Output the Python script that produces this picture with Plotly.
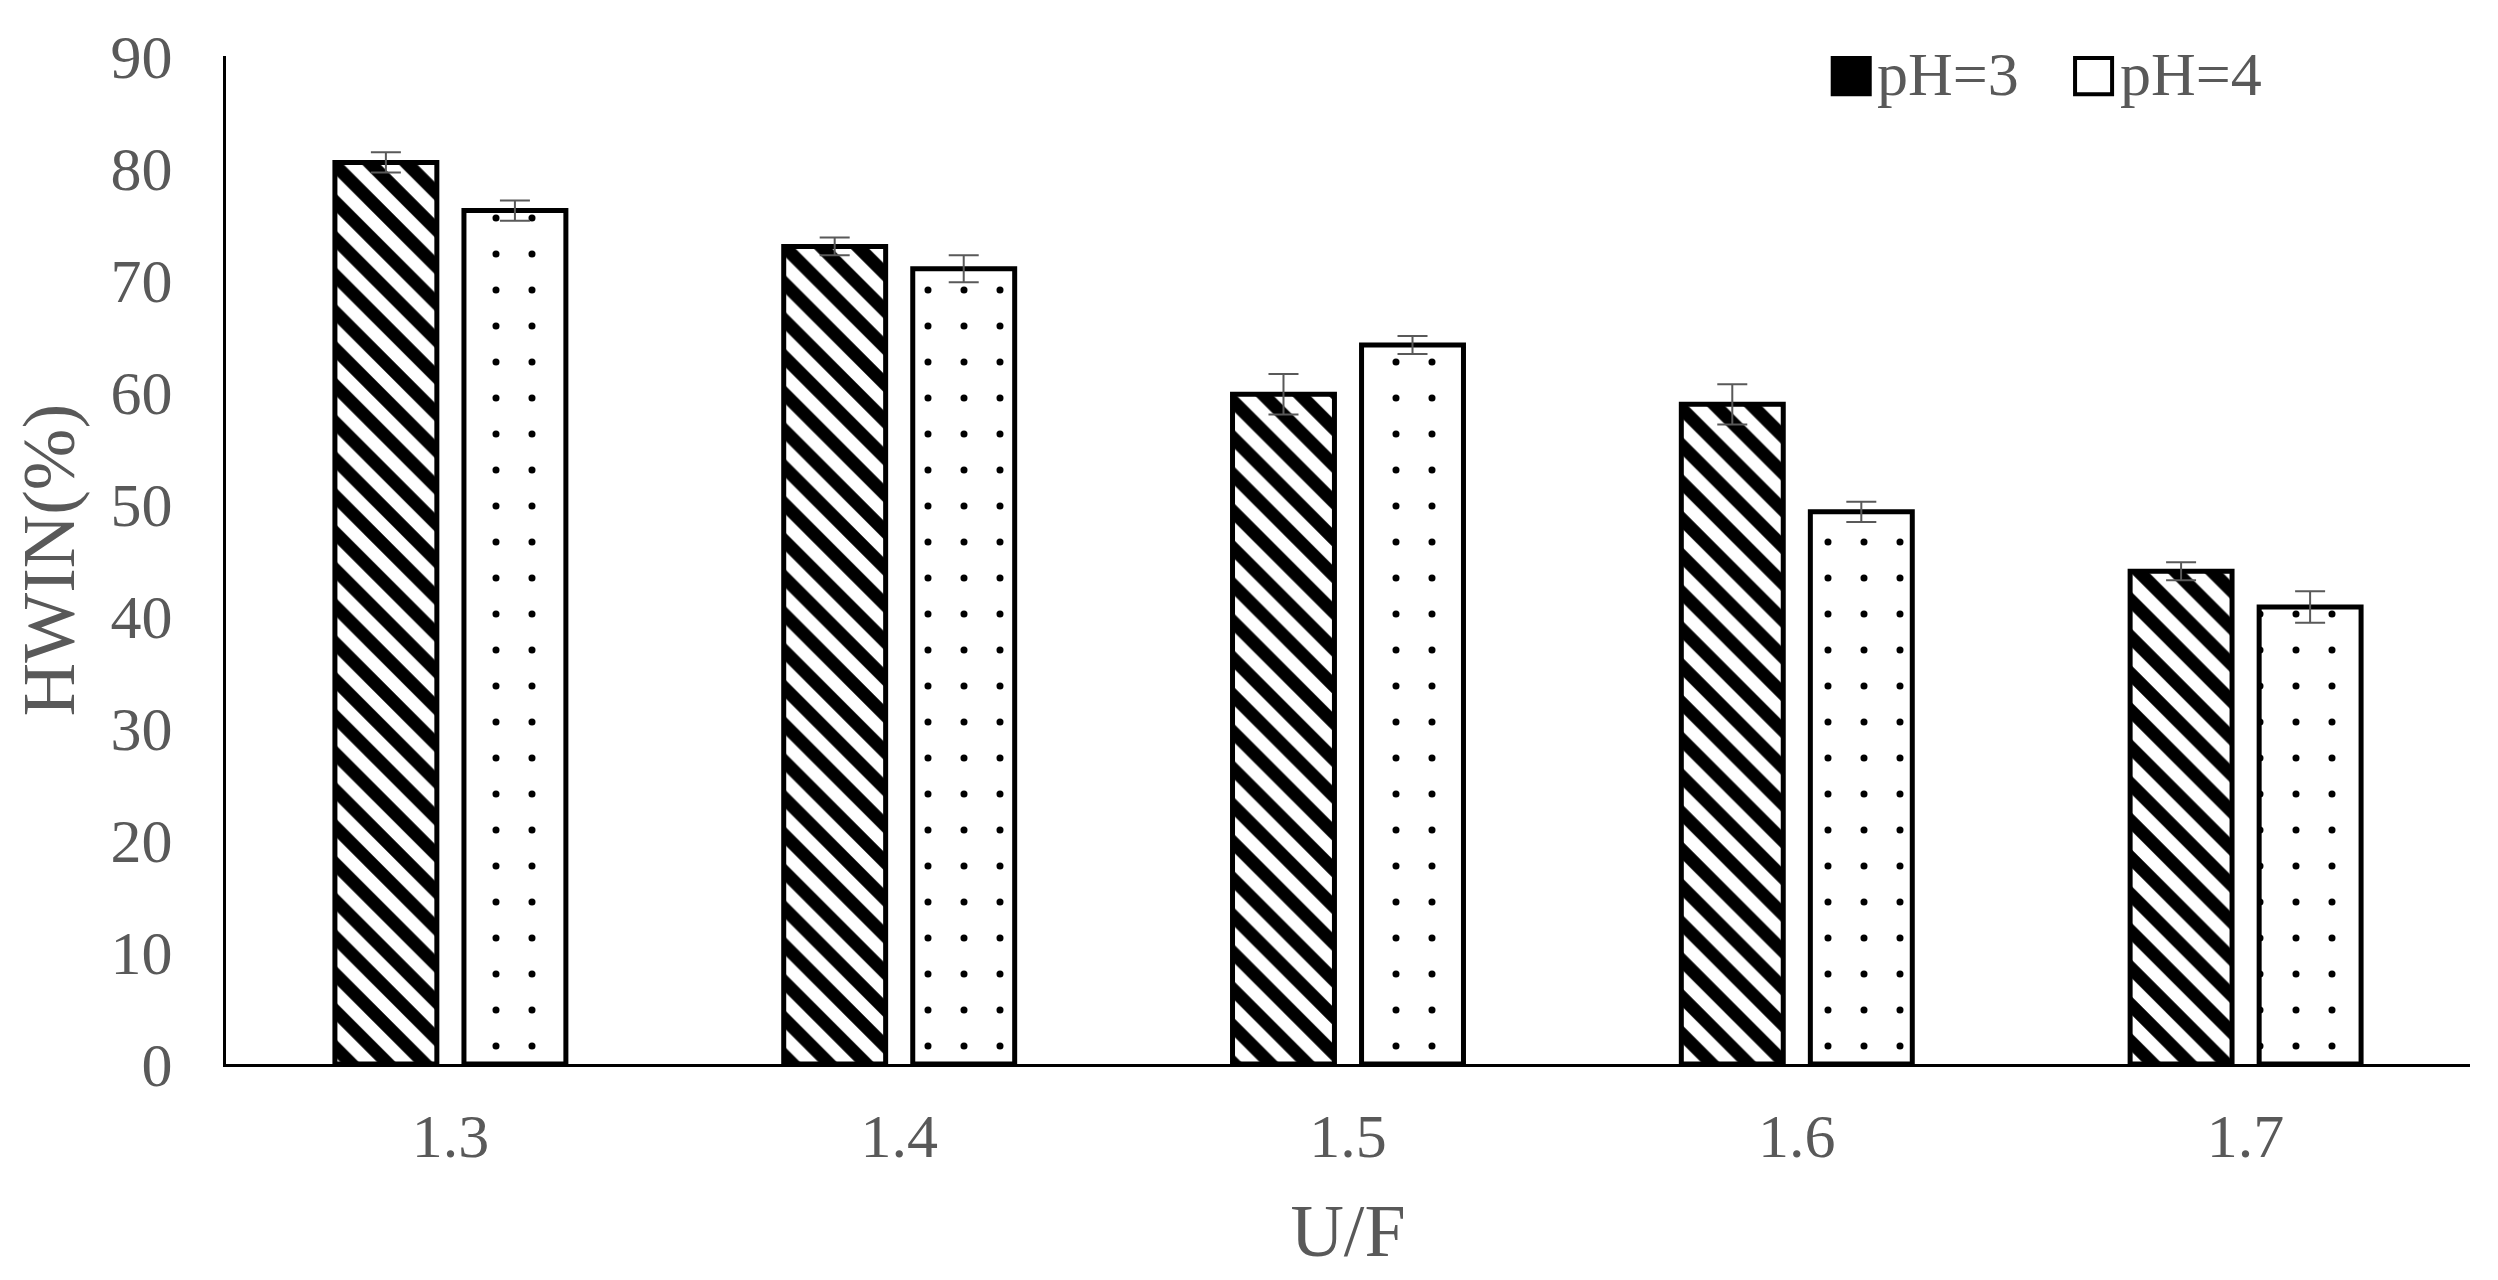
import plotly.graph_objects as go

uf = ["1.3", "1.4", "1.5", "1.6", "1.7"]
ph3 = [80.5, 73.0, 59.8, 58.9, 44.0]
ph3_err = [0.9, 0.8, 1.8, 1.8, 0.8]
ph4 = [76.2, 71.0, 64.2, 49.3, 40.8]
ph4_err = [0.9, 1.2, 0.8, 0.9, 1.4]
series_names = ["pH=3", "pH=4"]

font_family = "Liberation Serif"
grey = "#595959"

fig = go.Figure()

fig.add_trace(go.Bar(
    name=series_names[0], x=uf, y=ph3, showlegend=False,
    error_y={'type': 'data', 'array': ph3_err, 'color': grey, 'thickness': 2, 'width': 15},
    marker={
        'color': "white",
        'line': {'color': "black", 'width': 5},
        'pattern': {'shape': "\\", 'fgcolor': "black", 'bgcolor': "white",
                    'fgopacity': 1, 'size': 26, 'solidity': 0.5},
    },
))

fig.add_trace(go.Bar(
    name=series_names[1], x=uf, y=ph4, showlegend=False,
    error_y={'type': 'data', 'array': ph4_err, 'color': grey, 'thickness': 2, 'width': 15},
    marker={
        'color': "white",
        'line': {'color': "black", 'width': 5},
        'pattern': {'shape': ".", 'fgcolor': "black", 'bgcolor': "white",
                    'fgopacity': 1, 'size': 36, 'solidity': 0.03},
    },
))

# legend drawn by hand so the swatches can be as large as in the original
swatch_fill = ["black", "white"]
swatch_x = [0.716, 0.824]
for name, fill, x0 in zip(series_names, swatch_fill, swatch_x):
    fig.add_shape(type="rect", xref="paper", yref="paper",
                  x0=x0, x1=x0 + 0.0165, y0=0.962, y1=0.998,
                  fillcolor=fill, line={'color': "black", 'width': 4})
    fig.add_annotation(text=name, xref="paper", yref="paper",
                       x=x0 + 0.019, y=0.982, xanchor="left", yanchor="middle",
                       showarrow=False, font={'size': 62, 'color': grey})

fig.update_layout(
    width=2498, height=1280,
    paper_bgcolor="white", plot_bgcolor="white",
    font={'family': font_family, 'size': 62, 'color': grey},
    margin={'l': 218, 'r': 36, 't': 48, 'b': 224, 'autoexpand': False},
    barmode="group", bargap=0.425, bargroupgap=0.21,
    xaxis={
        'title': {'text': "U/F", 'standoff': 35},
        'showline': True, 'linecolor': "black", 'linewidth': 3,
        'ticks': "", 'showgrid': False, 'ticklabelstandoff': 16, 'automargin': False,
    },
    yaxis={
        'title': {'text': "HWIN(%)", 'standoff': 37},
        'range': [0, 90], 'dtick': 10,
        'showline': True, 'linecolor': "black", 'linewidth': 3,
        'ticks': "", 'showgrid': False, 'zeroline': False, 'ticklabelstandoff': 38,
        'automargin': False,
    },
)

fig.write_html("out.html")
